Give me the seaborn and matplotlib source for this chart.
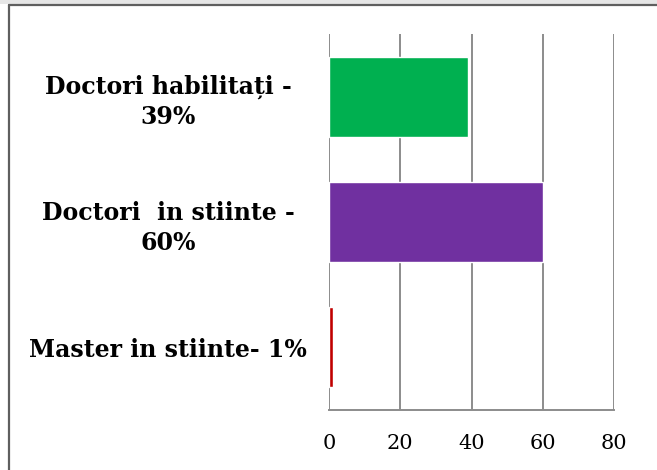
import matplotlib
matplotlib.use("Agg")
import matplotlib.pyplot as plt
import seaborn as sns
import pandas as pd
from matplotlib.lines import Line2D
from matplotlib.patches import Rectangle

categories = ["Doctori habilitați -\n39%", "Doctori  in stiinte -\n60%", "Master in stiinte- 1%"]
values = [39, 60, 1]
colors = ["#00B050", "#7030A0", "#C00000"]
x_ticks = [0, 20, 40, 60, 80]

sns.set_theme(style="white")
plt.rcParams['font.family'] = ['DejaVu Serif']

df = pd.DataFrame({"cat": categories, "val": values})

fig = plt.figure(figsize=(6.57, 4.70), dpi=100)
ax = fig.add_axes([329/657, 1 - 410/470, (614 - 329)/657, (410 - 34)/470])

sns.barplot(data=df, y="cat", x="val", hue="cat", palette=colors, orient="h",
            width=0.64, ax=ax, legend=False, saturation=1)

ax.set_xlim(0, 80)
ax.set_ylim(2.5, -0.5)
ax.set_xticks(x_ticks)
ax.set_xticklabels([str(t) for t in x_ticks], fontsize=15, color="#000000")
ax.set_xlabel("")
ax.set_ylabel("")
ax.xaxis.grid(True, color="#8c8c8c", linewidth=1.4)
ax.yaxis.grid(False)
ax.set_axisbelow(True)
for s in ["top", "right", "left"]:
    ax.spines[s].set_visible(False)
ax.spines["bottom"].set_color("#8c8c8c")
ax.spines["bottom"].set_linewidth(1.4)
ax.tick_params(axis="x", length=0, pad=17)
ax.tick_params(axis="y", length=0, pad=116)
for lab in ax.get_yticklabels():
    lab.set_ha("center")
    lab.set_multialignment("center")
    lab.set_fontweight("bold")
    lab.set_fontsize(17)
    lab.set_color("#000000")
    lab.set_linespacing(1.32)

# outer frame
fig.add_artist(Rectangle((0, 1 - 4/470), 1, 4/470, transform=fig.transFigure,
                         facecolor="#e6e6e6", edgecolor="none"))
fig.add_artist(Line2D([9/657, 1], [1 - 5/470, 1 - 5/470], transform=fig.transFigure,
                      color="#5f5f5f", linewidth=1.6))
fig.add_artist(Line2D([9/657, 9/657], [0, 1 - 5/470], transform=fig.transFigure,
                      color="#5f5f5f", linewidth=1.6))

fig.savefig("out.png", dpi=100)
